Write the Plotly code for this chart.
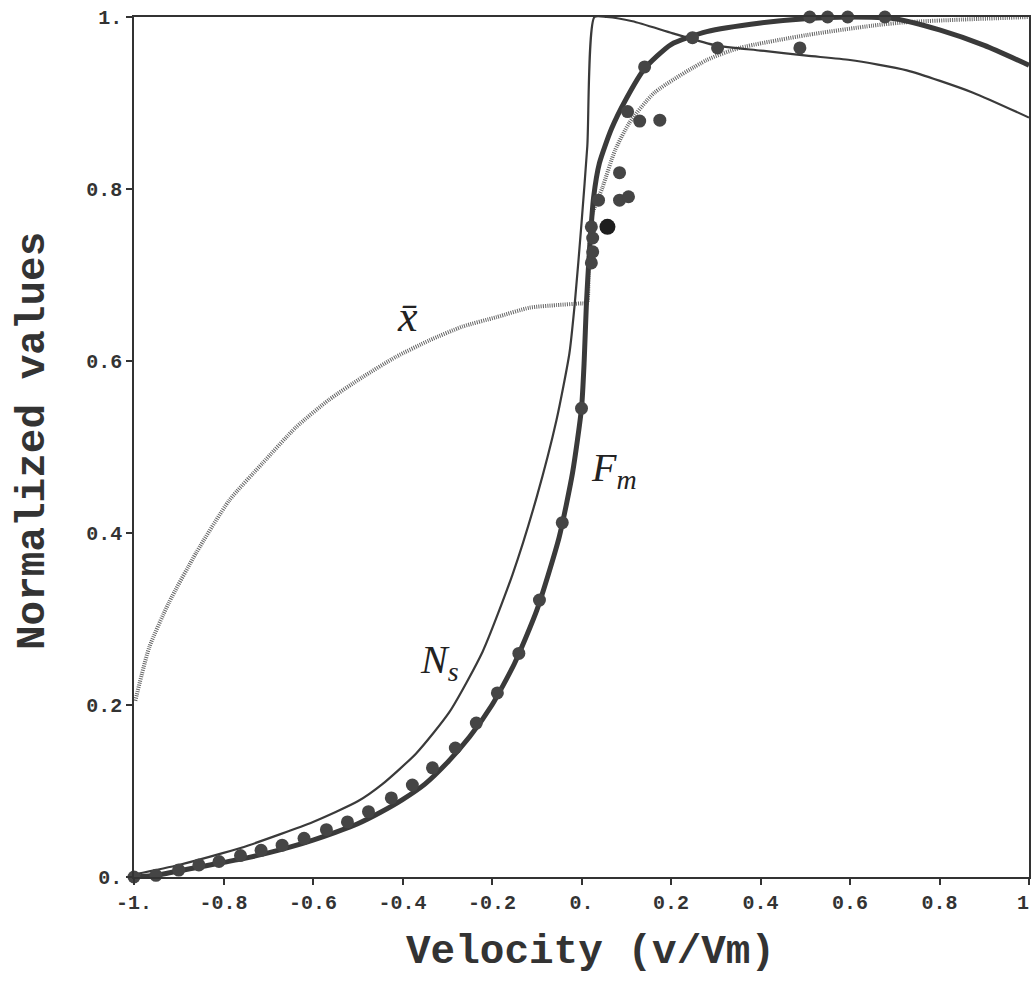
import plotly.graph_objects as go

# ---- data ----
ns_x = [-1.0, -0.9, -0.8, -0.743, -0.6, -0.5, -0.445, -0.369, -0.295, -0.221, -0.154, -0.1, -0.056,
        -0.027, -0.015, 0.0, 0.013, 0.029, 0.056, 0.114, 0.204, 0.30, 0.40, 0.503, 0.6, 0.727, 0.875, 1.0]
ns_y = [0.003, 0.014, 0.028, 0.037, 0.064, 0.088, 0.108, 0.144, 0.192, 0.262, 0.352, 0.442, 0.531,
        0.609, 0.667, 0.76, 0.85, 1.0, 1.0, 0.995, 0.981, 0.967, 0.961, 0.955, 0.95, 0.938, 0.912, 0.883]

fm_x = [-1.0, -0.95, -0.9, -0.85, -0.8, -0.75, -0.7, -0.65, -0.6, -0.55, -0.5, -0.45, -0.4, -0.35,
        -0.3, -0.25, -0.2, -0.15, -0.1, -0.05, -0.02, 0.0, 0.006, 0.011, 0.018, 0.027, 0.04, 0.067,
        0.1, 0.141, 0.2, 0.28, 0.4, 0.5, 0.6, 0.7, 0.8, 0.9, 1.0]
fm_y = [0.0, 0.002, 0.007, 0.012, 0.017, 0.022, 0.028, 0.035, 0.043, 0.052, 0.062, 0.075, 0.090, 0.108,
        0.133, 0.163, 0.2, 0.248, 0.31, 0.395, 0.47, 0.545, 0.6, 0.667, 0.73, 0.79, 0.83, 0.87,
        0.905, 0.94, 0.968, 0.983, 0.993, 0.998, 1.0, 0.998, 0.985, 0.967, 0.944]

xbar_x = [-0.997, -0.966, -0.922, -0.861, -0.787, -0.713, -0.638, -0.564, -0.49, -0.414, -0.34, -0.266,
          -0.19, -0.116, -0.056, 0.002, 0.012, 0.016, 0.024, 0.047, 0.075, 0.107, 0.163, 0.28, 0.353,
          0.503, 0.651, 0.727, 0.85, 1.0]
xbar_y = [0.205, 0.267, 0.319, 0.377, 0.438, 0.481, 0.523, 0.555, 0.581, 0.605, 0.624, 0.64,
          0.651, 0.662, 0.665, 0.667, 0.667, 0.72, 0.77, 0.802, 0.845, 0.877, 0.912, 0.95, 0.964,
          0.979, 0.99, 0.994, 0.997, 1.0]

pts_x = [-1.0, -0.951, -0.9, -0.855, -0.81, -0.762, -0.716, -0.669, -0.62, -0.57, -0.523, -0.476,
         -0.425, -0.378, -0.333, -0.282, -0.235, -0.188, -0.14, -0.094, -0.043, 0.0,
         0.022, 0.025, 0.025, 0.022, 0.038, 0.085, 0.105, 0.085, 0.103, 0.13, 0.175, 0.141,
         0.248, 0.304, 0.488, 0.51, 0.55, 0.595, 0.678]
pts_y = [0.0, 0.002, 0.008, 0.014, 0.018, 0.025, 0.031, 0.037, 0.045, 0.055, 0.064, 0.076,
         0.092, 0.107, 0.127, 0.15, 0.179, 0.214, 0.26, 0.322, 0.412, 0.545,
         0.714, 0.727, 0.743, 0.756, 0.787, 0.787, 0.791, 0.819, 0.89, 0.879, 0.88, 0.942,
         0.976, 0.964, 0.964, 1.0, 1.0, 1.0, 1.0]

big_x = [0.058]
big_y = [0.756]

x_ticks = [-1.0, -0.8, -0.6, -0.4, -0.2, 0.0, 0.2, 0.4, 0.6, 0.8, 1.0]
x_tick_text = ["-1.", "-0.8", "-0.6", "-0.4", "-0.2", "0.", "0.2", "0.4", "0.6", "0.8", "1."]
y_ticks = [0.0, 0.2, 0.4, 0.6, 0.8, 1.0]
y_tick_text = ["0.", "0.2", "0.4", "0.6", "0.8", "1."]

labels = [("x\u0304", -0.388, 0.652, 44), ("N<sub>s</sub>", -0.318, 0.25, 40), ("F<sub>m</sub>", 0.072, 0.473, 40)]

LINE = "#3a3a3a"
MONO = "Liberation Mono"

fig = go.Figure()
fig.add_trace(go.Scatter(x=xbar_x, y=xbar_y, mode="lines",
                         line=dict(color="#666666", width=4, dash="1px,1.2px", shape="spline", smoothing=0.6),
                         hoverinfo="skip", showlegend=False))
fig.add_trace(go.Scatter(x=ns_x, y=ns_y, mode="lines",
                         line=dict(color=LINE, width=2.2, shape="spline", smoothing=0.6), showlegend=False))
fig.add_trace(go.Scatter(x=fm_x, y=fm_y, mode="lines",
                         line=dict(color=LINE, width=5, shape="spline", smoothing=0.6), showlegend=False))
fig.add_trace(go.Scatter(x=pts_x, y=pts_y, mode="markers",
                         marker=dict(color="#454545", size=13, line=dict(width=0)),
                         cliponaxis=False, showlegend=False))
fig.add_trace(go.Scatter(x=big_x, y=big_y, mode="markers",
                         marker=dict(color="#1e1e1e", size=16, line=dict(width=0)),
                         cliponaxis=False, showlegend=False))

for txt, lx, ly, fs in labels:
    fig.add_annotation(x=lx, y=ly, text=txt, showarrow=False,
                       font=dict(family="Liberation Serif", size=fs, color="#222", style="italic"))

fig.add_annotation(xref="paper", yref="paper", x=0.51, y=0, yshift=-75, text="Velocity (v/Vm)",
                   showarrow=False, xanchor="center", yanchor="middle",
                   font=dict(family=MONO, size=41, color="#333", weight="bold"))
fig.add_annotation(xref="paper", yref="paper", x=0, y=0.5, xshift=-101, yshift=6,
                   text="Normalized values", textangle=-90, showarrow=False,
                   xanchor="center", yanchor="middle",
                   font=dict(family=MONO, size=41, color="#333", weight="bold"))

axis_common = dict(showline=True, linecolor="#333", linewidth=1.5, mirror=True,
                   ticks="outside", ticklen=6, tickwidth=1.5, tickcolor="#333",
                   showgrid=False, zeroline=False, ticklabeloverflow="allow", automargin=False,
                   tickfont=dict(family=MONO, size=20, color="#333", weight="bold"))

fig.update_xaxes(range=[-1, 1], tickvals=x_ticks, ticktext=x_tick_text, **axis_common)
fig.update_yaxes(range=[0, 1], tickvals=y_ticks, ticktext=y_tick_text, **axis_common)

fig.update_layout(width=1032, height=994,
                  margin=dict(l=134, r=3, t=17, b=117),
                  paper_bgcolor="white", plot_bgcolor="white")

# remove the default page margin so the figure fills the window exactly
fig.write_html("out.html", config={"displayModeBar": False},
               post_script="document.body.style.margin='0';document.body.style.overflow='hidden';")
